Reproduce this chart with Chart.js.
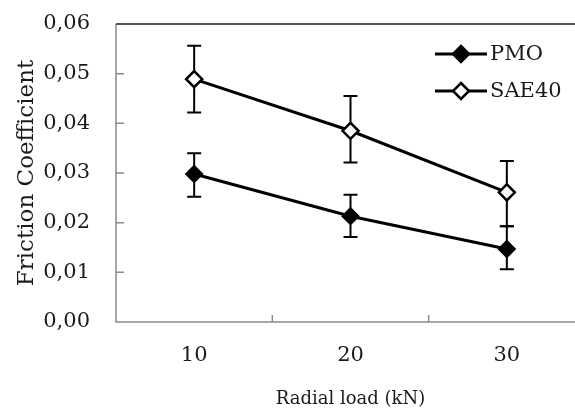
<!DOCTYPE html>
<html>
<head>
<meta charset="utf-8">
<script src="https://cdn.jsdelivr.net/npm/chart.js@4.4.1/dist/chart.umd.min.js"></script>
<style>
  html, body { margin: 0; padding: 0; overflow: hidden; background: #fff; }
  #wrap { width: 600px; height: 410px; }
</style>
</head>
<body>
<div id="wrap"><canvas id="chart"></canvas></div>
<script>
const loads = ['10', '20', '30'];

const pmo = [0.0298, 0.0213, 0.0147];
const pmoLow = [0.0252, 0.0171, 0.0106];
const pmoHigh = [0.0340, 0.0256, 0.0193];

const sae40 = [0.0489, 0.0385, 0.0261];
const sae40Low = [0.0422, 0.0321, 0.0193];
const sae40High = [0.0556, 0.0455, 0.0324];

const yTicks = [0, 0.01, 0.02, 0.03, 0.04, 0.05, 0.06];

const FONT = 'DejaVu Serif';
const TEXT = '#1a1a1a';

function diamond(ctx, x, y, r, fill) {
    ctx.beginPath();
    ctx.moveTo(x, y - r);
    ctx.lineTo(x + r, y);
    ctx.lineTo(x, y + r);
    ctx.lineTo(x - r, y);
    ctx.closePath();
    ctx.fillStyle = fill;
    ctx.fill();
    ctx.lineWidth = 2.5;
    ctx.strokeStyle = '#000';
    ctx.stroke();
}

// error bars, drawn under the lines and markers
const errorBars = {
    id: 'errorBars',
    beforeDatasetsDraw(chart) {
        const ctx = chart.ctx;
        const x = chart.scales.x, y = chart.scales.y;
        ctx.save();
        ctx.strokeStyle = '#000';
        ctx.lineWidth = 2;
        chart.data.datasets.forEach(ds => {
            ds.low.forEach((lo, i) => {
                const px = x.getPixelForValue(i);
                const y1 = y.getPixelForValue(lo);
                const y2 = y.getPixelForValue(ds.high[i]);
                ctx.beginPath();
                ctx.moveTo(px, y1); ctx.lineTo(px, y2);
                ctx.moveTo(px - 7, y1); ctx.lineTo(px + 7, y1);
                ctx.moveTo(px - 7, y2); ctx.lineTo(px + 7, y2);
                ctx.stroke();
            });
        });
        ctx.restore();
    }
};

// frame, inner tick marks and legend
const frame = {
    id: 'frame',
    afterDraw(chart) {
        const ctx = chart.ctx;
        const {left, right, top, bottom} = chart.chartArea;
        const x = chart.scales.x, y = chart.scales.y;
        ctx.save();
        ctx.strokeStyle = '#8a8a8a';
        ctx.lineWidth = 1.5;
        ctx.beginPath();
        ctx.moveTo(left, top); ctx.lineTo(left, bottom); ctx.lineTo(right, bottom);
        yTicks.forEach(v => {
            const py = y.getPixelForValue(v);
            ctx.moveTo(left, py); ctx.lineTo(left + 8, py);
        });
        for (let i = 0; i < loads.length - 1; i++) {
            const px = (x.getPixelForValue(i) + x.getPixelForValue(i + 1)) / 2;
            ctx.moveTo(px, bottom); ctx.lineTo(px, bottom - 7);
        }
        ctx.stroke();
        ctx.strokeStyle = '#555';
        ctx.lineWidth = 2;
        ctx.beginPath();
        ctx.moveTo(left, top); ctx.lineTo(right, top);
        ctx.stroke();

        // legend
        const rows = [54, 91];
        chart.data.datasets.forEach((ds, i) => {
            const ly = rows[i];
            ctx.strokeStyle = '#000';
            ctx.lineWidth = 3;
            ctx.beginPath();
            ctx.moveTo(435, ly); ctx.lineTo(487, ly);
            ctx.stroke();
            diamond(ctx, 461, ly, 8, ds.pointBackgroundColor);
            ctx.fillStyle = TEXT;
            ctx.font = '21px "' + FONT + '"';
            ctx.textAlign = 'left';
            ctx.textBaseline = 'middle';
            ctx.fillText(ds.label, 490, ly + 1);
        });
        ctx.restore();
    }
};

new Chart(document.getElementById('chart'), {
    type: 'line',
    data: {
        labels: loads,
        datasets: [
            {
                label: 'PMO',
                data: pmo,
                low: pmoLow,
                high: pmoHigh,
                borderColor: '#000',
                borderWidth: 3,
                pointStyle: 'rectRot',
                pointRadius: 8,
                pointBorderWidth: 2,
                pointBorderColor: '#000',
                pointBackgroundColor: '#000',
                tension: 0
            },
            {
                label: 'SAE40',
                data: sae40,
                low: sae40Low,
                high: sae40High,
                borderColor: '#000',
                borderWidth: 3,
                pointStyle: 'rectRot',
                pointRadius: 8,
                pointBorderWidth: 2.5,
                pointBorderColor: '#000',
                pointBackgroundColor: '#fff',
                tension: 0
            }
        ]
    },
    options: {
        responsive: true,
        maintainAspectRatio: false,
        animation: false,
        layout: { padding: { top: 24, right: 15, left: 0, bottom: 0 } },
        plugins: {
            legend: { display: false },
            tooltip: { enabled: false }
        },
        scales: {
            x: {
                type: 'category',
                offset: true,
                grid: { display: false, drawTicks: false },
                border: { display: false },
                ticks: {
                    padding: 21,
                    color: TEXT,
                    font: { family: FONT, size: 21 }
                },
                title: {
                    display: true,
                    text: 'Radial load (kN)',
                    color: TEXT,
                    padding: { top: 0, bottom: 0 },
                    font: { family: FONT, size: 18 }
                },
                afterFit(scale) {
                    scale.height = 88;
                    scale.paddingLeft = 0;
                    scale.paddingRight = 0;
                }
            },
            y: {
                min: 0,
                max: 0.06,
                grid: { display: false, drawTicks: false },
                border: { display: false },
                afterBuildTicks(scale) {
                    scale.ticks = yTicks.map(v => ({ value: v }));
                },
                ticks: {
                    padding: 26,
                    color: TEXT,
                    font: { family: FONT, size: 21 },
                    callback: v => v.toFixed(2).replace('.', ',')
                },
                title: {
                    display: true,
                    text: 'Friction Coefficient',
                    color: TEXT,
                    padding: { top: 13, bottom: 0 },
                    font: { family: FONT, size: 23 }
                },
                afterFit(scale) {
                    scale.width = 116;
                    scale.paddingTop = 0;
                    scale.paddingBottom = 0;
                }
            }
        }
    },
    plugins: [errorBars, frame]
});
</script>
</body>
</html>
